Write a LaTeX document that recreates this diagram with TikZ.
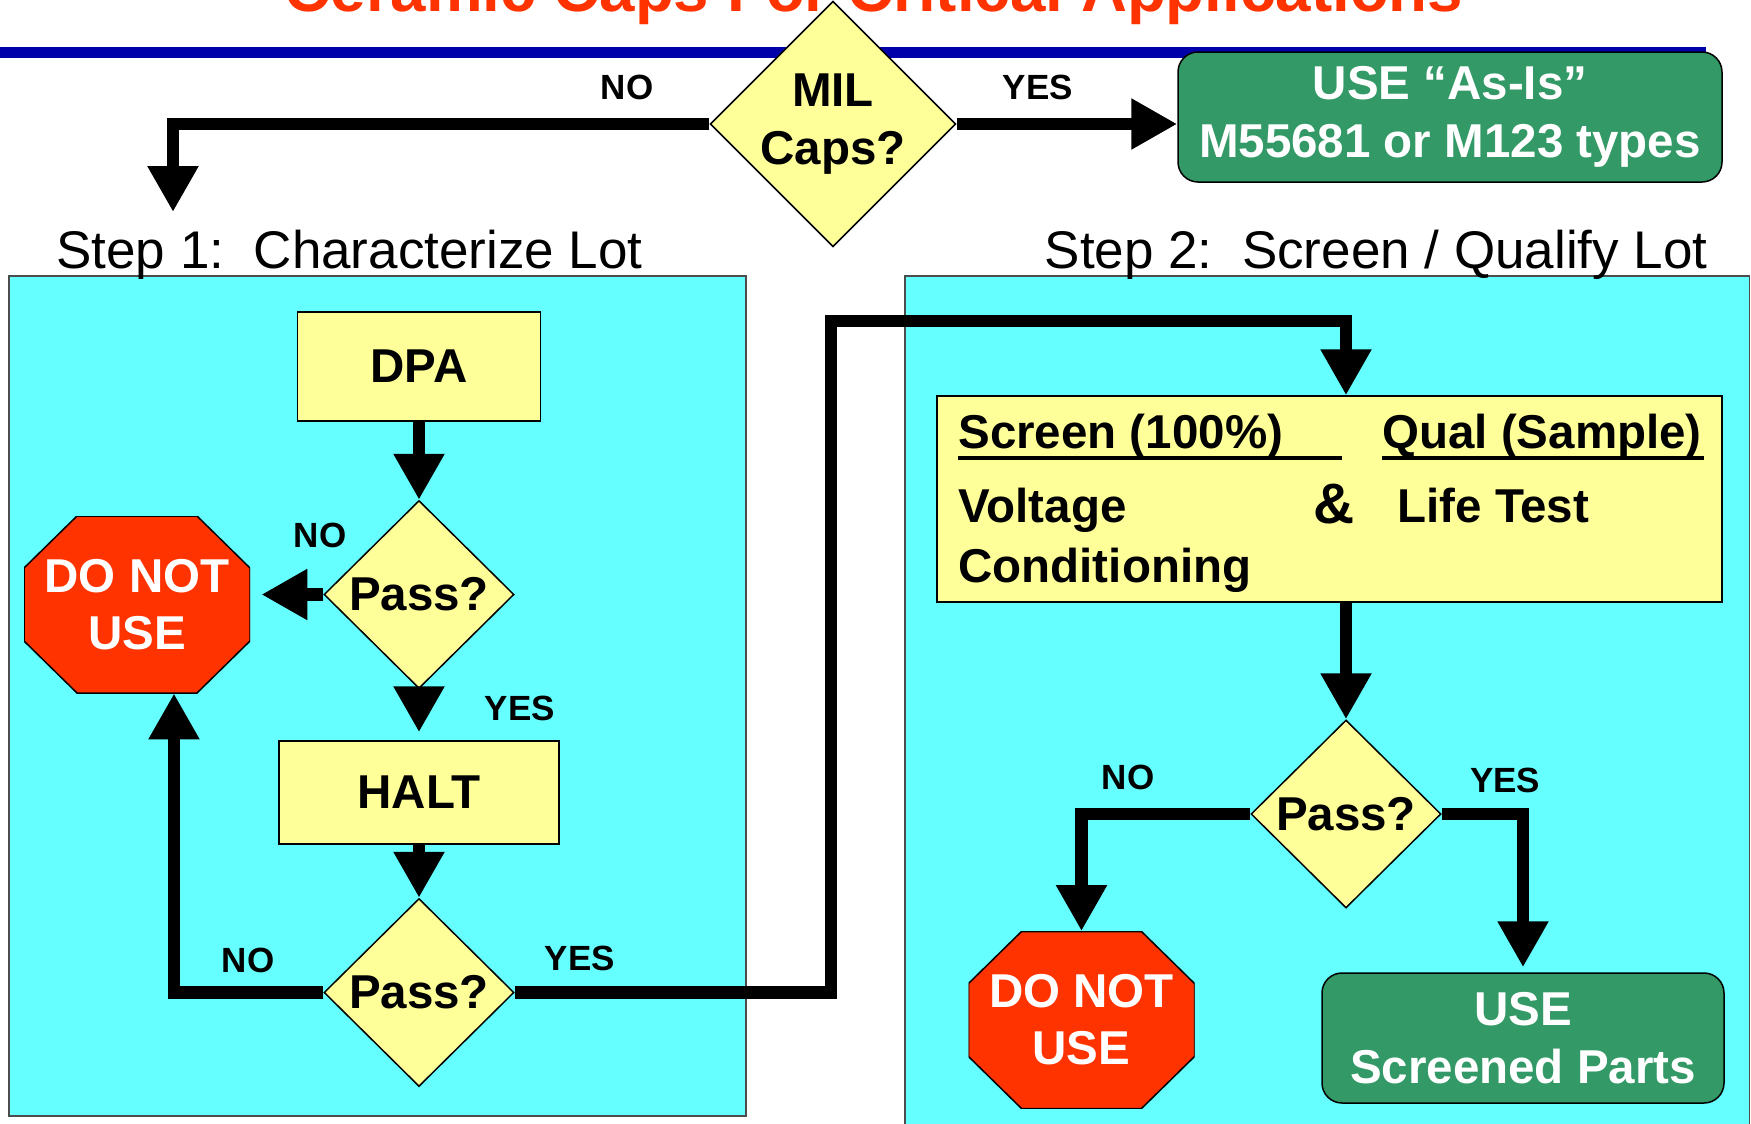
\documentclass[tikz,border=0pt]{standalone}
\usepackage{fontspec}
\setmainfont{Liberation Sans}
\usetikzlibrary{shapes.geometric,arrows.meta,positioning}

\definecolor{panelcyan}{HTML}{66FFFF}
\definecolor{boxyellow}{HTML}{FFFF99}
\definecolor{okgreen}{HTML}{339966}
\definecolor{stopred}{HTML}{FF3300}
\definecolor{barblue}{HTML}{0000AA}

\begin{document}
\begin{tikzpicture}[
                        x=0.5pt, y=-0.5pt,
                        node distance=100pt,
                        >={Triangle[length=23pt,width=24pt]},
                        flow/.style={->, line width=6.25pt},
                        panel/.style={draw=black!70, line width=0.75pt, fill=panelcyan},
                        block/.style={rectangle, draw, line width=0.75pt, fill=boxyellow,
                            font=\bfseries\fontsize{23.75}{29}\selectfont},
                        decision/.style={diamond, draw, line width=0.75pt, fill=boxyellow,
                            inner sep=0pt, align=center, minimum width=95pt, minimum height=94pt,
                            font=\bfseries\fontsize{23.75}{29}\selectfont},
                        % octagon cut 26.5pt x 26pt off each corner of the node box
                        stopsign/.style={rectangle, fill=panelcyan, text=white, align=center,
                            inner sep=0pt, minimum width=113pt, minimum height=88.5pt,
                            font=\bfseries\fontsize{23.75}{28.5}\selectfont,
                            path picture={
                                \draw [line width=0.75pt, fill=stopred]
                                    ([xshift=26.5pt]path picture bounding box.north west)
                                 -- ([xshift=-26.5pt]path picture bounding box.north east)
                                 -- ([yshift=-26pt]path picture bounding box.north east)
                                 -- ([yshift=26pt]path picture bounding box.south east)
                                 -- ([xshift=-26.5pt]path picture bounding box.south east)
                                 -- ([xshift=26.5pt]path picture bounding box.south west)
                                 -- ([yshift=26pt]path picture bounding box.south west)
                                 -- ([yshift=-26pt]path picture bounding box.north west)
                                 -- cycle;
                            }},
                        usebox/.style={rectangle, rounded corners=10pt, draw, line width=0.75pt,
                            fill=okgreen, text=white, align=center,
                            font=\bfseries\fontsize{23.75}{29}\selectfont},
                        answer/.style={font=\bfseries\fontsize{17.5}{21}\selectfont},
                        steptitle/.style={inner sep=0pt, font=\fontsize{26.5}{32}\selectfont},
                        cell/.style={anchor=base west, inner sep=0pt,
                            font=\bfseries\fontsize{23.75}{29}\selectfont},
                        underline/.style={line width=1.75pt}
                    ]
                    \useasboundingbox (0,0) rectangle (1751,1124);

                    % Heading
                    \node [anchor=base, text=stopred, font=\bfseries\fontsize{31.85}{38}\selectfont] (title) at (874,11) {Ceramic Caps For Critical Applications};
                    \fill [barblue] (0,47) rectangle (1706,58);

                    % Panels
                    \draw [panel] (9,276) rectangle (746,1116);
                    \draw [panel] (905,276) rectangle (1749.5,1140);
                    \node [steptitle, anchor=base west] (step1) at (56,268) {Step 1:\ \ Characterize Lot};
                    \node [steptitle, anchor=base east] (step2) at (1708,268) {Step 2:\ \ Screen / Qualify Lot};

                    % Blocks
                    \node [decision, minimum width=120pt, minimum height=119pt] (mil) at (833,124) {MIL\\Caps?};
                    \node [usebox, minimum width=272pt, minimum height=65pt] (asis) at (1450,117) {USE “As-Is”\\M55681 or M123 types};

                    \node [block, minimum width=121.5pt, minimum height=54.5pt] (dpa) at (419,366.5) {DPA};
                    \node [decision, below of=dpa, node distance=114pt] (pass1) {Pass?};
                    \node [block, minimum width=140pt, minimum height=51.5pt, below of=pass1, node distance=99pt] (halt) {HALT};
                    \node [decision, below of=halt, node distance=100pt] (pass2) {Pass?};
                    \node [stopsign] (stop1) at (137,604.5) {DO NOT\\USE};

                    \node [block, minimum width=392.5pt, minimum height=103pt] (screen) at (1329.5,499) {};
                    \node [cell] (scrhead) at (958,448) {Screen (100\%)};
                    \node [cell] (qualhead) at (1382,448) {Qual (Sample)};
                    \node [cell] (volt) at (958,522) {Voltage};
                    \node [cell, font=\bfseries\fontsize{28.5}{34}\selectfont] (amp) at (1313,523) {\&};
                    \node [cell] (life) at (1397,522) {Life Test};
                    \node [cell] (cond) at (958,582) {Conditioning};
                    \draw [underline] (958,458) -- (1342,458);
                    \draw [underline] (1382,458) -- (1704,458);

                    \node [decision] (pass3) at (1346,814) {Pass?};
                    \node [stopsign] (stop2) at (1081.5,1020) {DO NOT\\USE};
                    \node [usebox, minimum width=201pt, minimum height=65pt] (usesp) at (1523,1038) {USE\\Screened Parts};

                    % Answers
                    \node [answer] (milno) at (627,87) {NO};
                    \node [answer] (milyes) at (1038,87) {YES};
                    \node [answer] (pass1no) at (320,535) {NO};
                    \node [answer] (pass1yes) at (520,708) {YES};
                    \node [answer] (pass2no) at (248,960) {NO};
                    \node [answer] (pass2yes) at (580,958) {YES};
                    \node [answer] (pass3no) at (1128,777) {NO};
                    \node [answer] (pass3yes) at (1505,780) {YES};

                    % Connections
                    \coordinate (lotin) at (173,212);
                    \coordinate (jog) at (831,321);
                    \draw [flow] (mil.west) -| (lotin);
                    \draw [flow] (mil.east) -- (mil.east -| asis.west);
                    \draw [flow] (dpa.south) -- (pass1.north);
                    \draw [flow, shorten >=5.5pt] (pass1.west) -- (pass1.west -| stop1.east);
                    \draw [flow, shorten >=4pt] (pass1.south) -- (halt.north);
                    \draw [flow] (halt.south) -- (pass2.north);
                    \draw [flow] (pass2.west) -| ([xshift=18.5pt]stop1.south);
                    \draw [flow] (pass2.east) -| (jog) -| (pass3 |- screen.north);
                    \draw [flow] (pass3 |- screen.south) -- (pass3.north);
                    \draw [flow] (pass3.west) -| (stop2.north);
                    \draw [flow, shorten >=2.5pt] (pass3.east) -| (usesp.north);
                \end{tikzpicture}
\end{document}
